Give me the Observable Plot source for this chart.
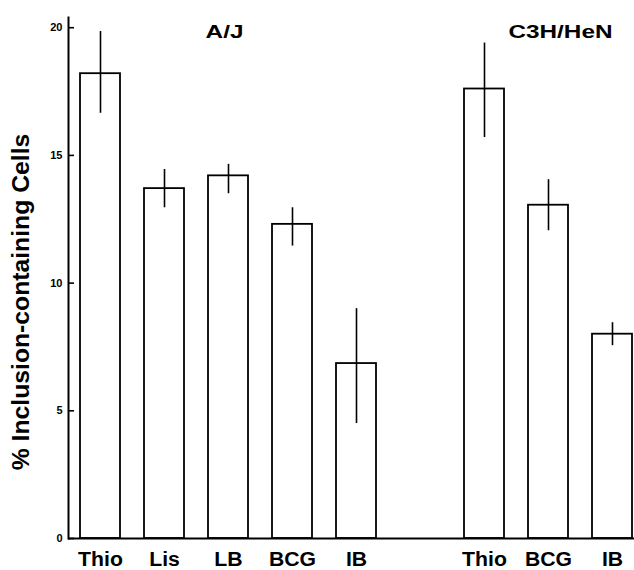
<!DOCTYPE html>
<html>
<head>
<meta charset="utf-8">
<script src="https://cdn.jsdelivr.net/npm/d3@7"></script>
<script src="https://cdn.jsdelivr.net/npm/@observablehq/plot@0.6"></script>
<style>
  html, body { margin: 0; padding: 0; background: white; }
</style>
</head>
<body>
<div id="chart"></div>
<script>
// Data
const ajCats = ["Thio", "Lis", "LB", "BCG", "IB"];
const ajMeans = [18.2, 13.7, 14.2, 12.3, 6.85];
const ajLow = [16.65, 12.95, 13.5, 11.45, 4.5];
const ajHigh = [19.85, 14.45, 14.65, 12.95, 9.0];

const c3hCats = ["Thio", "BCG", "IB"];
const c3hMeans = [17.6, 13.05, 8.0];
const c3hLow = [15.7, 12.05, 7.55];
const c3hHigh = [19.4, 14.05, 8.45];

const groupTitles = ["A/J", "C3H/HeN"];
const yTicks = [0, 5, 10, 15, 20];
const yTitle = "% Inclusion-containing Cells";

// Build table
const rows = [
  ...ajCats.map((c, i) => ({key: "AJ-" + c, label: c, mean: ajMeans[i], lo: ajLow[i], hi: ajHigh[i]})),
  ...c3hCats.map((c, i) => ({key: "C3H-" + c, label: c, mean: c3hMeans[i], lo: c3hLow[i], hi: c3hHigh[i]}))
];
const xDomain = [...ajCats.map(c => "AJ-" + c), "gap", ...c3hCats.map(c => "C3H-" + c)];
const labelOf = new Map(rows.map(r => [r.key, r.label]));
const xLabels = new Set([...ajCats, ...c3hCats]);

const font = "'Liberation Sans', Arial, Helvetica, sans-serif";

const chart = Plot.plot({
  width: 634,
  height: 570,
  marginLeft: 68,
  marginRight: 0,
  marginTop: 17,
  marginBottom: 32,
  style: {fontFamily: font, background: "white", color: "black"},
  x: {domain: xDomain, range: [68, 644], paddingInner: 0.375, paddingOuter: 0.1875, align: 0.5},
  y: {domain: [0, 20.4]},
  marks: [
    Plot.barY(rows, {x: "key", y: "mean", fill: "white", stroke: "black", strokeWidth: 1.8}),
    Plot.ruleX(rows, {x: "key", y1: "lo", y2: "hi", stroke: "black", strokeWidth: 1.6}),
    Plot.ruleY([0], {stroke: "black", strokeWidth: 2}),
    Plot.frame({anchor: "left", stroke: "black", strokeWidth: 2}),
    Plot.axisY({ticks: yTicks, tickSize: 6, fill: "none", dx: 6, strokeWidth: 1.6, label: null}),
    Plot.axisY({ticks: yTicks, tickSize: 0, tickPadding: 6, fontSize: 11, fontWeight: "bold", label: null}),
    Plot.axisX({tickSize: 0, tickPadding: 13, fontSize: 20, fontWeight: "bold", label: null,
      tickFormat: d => labelOf.get(d) ?? ""}),
    Plot.text([{k: "AJ-LB", t: groupTitles[0]}], {x: "k", text: "t", frameAnchor: "top", dy: 7, dx: -4,
      fontSize: 19, fontWeight: "bold"}),
    Plot.text([{k: "C3H-BCG", t: groupTitles[1]}], {x: "k", text: "t", frameAnchor: "top", dy: 7, dx: 12,
      fontSize: 19, fontWeight: "bold"}),
    Plot.text([yTitle], {text: d => d, frameAnchor: "left", textAnchor: "middle", rotate: -90, dx: -47, dy: 24,
      fontSize: 24, fontWeight: "bold"})
  ]
});

document.getElementById("chart").appendChild(chart);

// Widen glyphs slightly to mimic the wide bold typeface of the original
d3.select(chart).selectAll("text").each(function() {
  const t = this.textContent;
  let f = 0;
  if (groupTitles.includes(t)) f = 1.28;
  else if (xLabels.has(t)) f = 1.06;
  else if (t === yTitle) f = 1.03;
  if (f) {
    const len = this.getComputedTextLength();
    this.setAttribute("textLength", (len * f).toFixed(1));
    this.setAttribute("lengthAdjust", "spacingAndGlyphs");
  }
});
</script>
</body>
</html>
